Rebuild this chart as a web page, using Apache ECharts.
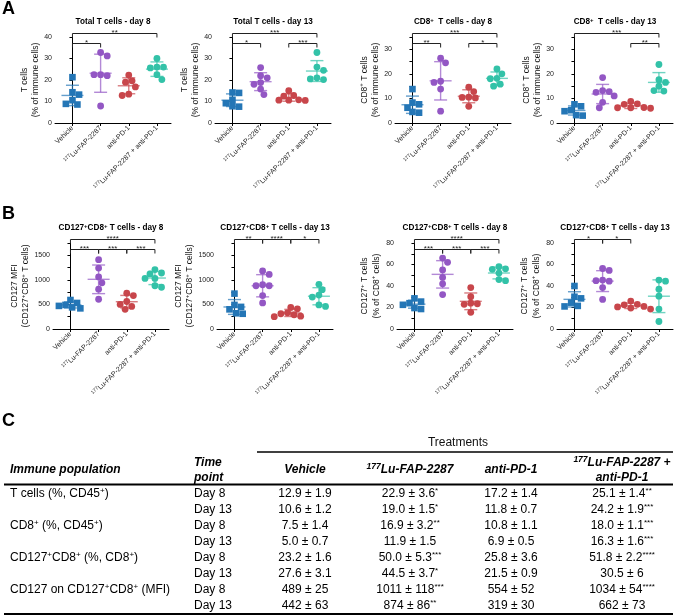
<!DOCTYPE html>
<html>
<head>
<meta charset="utf-8">
<script src="https://cdn.jsdelivr.net/npm/echarts@6.0.0/dist/echarts.min.js"></script>
<style>
html,body{margin:0;padding:0;background:#fff;}
#chart{width:677px;height:616px;}
</style>
</head>
<body>
<div id="chart"></div>
<script>
// ---------------- data ----------------
const categories = ['Vehicle', '[177]Lu-FAP-2287', 'anti-PD-1', '[177]Lu-FAP-2287 + anti-PD-1'];
const groupColors = ['#2476b6', '#9357c4', '#c8464b', '#33c2a8'];

// individual animals per group: [Vehicle, Lu, anti-PD-1, combo]
const totalTDay8 = [
  [21.3, 14.3, 13.2, 10.6, 8.6, 8.9],
  [32.8, 31.2, 22.5, 22.5, 22.0, 7.9],
  [22.3, 19.6, 19.0, 16.8, 13.4, 12.8],
  [30.0, 26.0, 26.0, 25.6, 22.5, 20.2]
];
const totalTDay13 = [
  [14.2, 14.0, 10.8, 9.2, 7.8, 7.6],
  [25.8, 22.0, 21.0, 18.8, 18.0, 15.8, 13.2],
  [15.0, 12.8, 12.5, 10.8, 10.6, 10.6, 10.5],
  [32.8, 26.0, 24.5, 21.0, 20.5, 20.2]
];
const cd8Day8 = [
  [13.8, 8.3, 7.6, 6.2, 4.2, 4.5],
  [26.4, 24.5, 17.0, 16.5, 13.8, 4.8],
  [14.6, 12.8, 10.5, 10.4, 10.2, 6.8],
  [22.0, 20.0, 18.2, 18.0, 15.8, 15.0]
];
const cd8Day13 = [
  [7.6, 6.8, 5.2, 4.8, 3.2, 3.0],
  [18.5, 13.2, 12.8, 12.5, 11.0, 8.4, 6.2],
  [8.8, 7.8, 7.6, 6.3, 6.2, 6.2, 6.0],
  [23.8, 17.6, 16.5, 15.0, 13.2, 13.0]
];
const cd127MfiDay8 = [
  [590, 530, 490, 470, 440, 420],
  [1410, 1240, 1060, 940, 810, 605],
  [730, 680, 560, 500, 460, 400],
  [1210, 1140, 1120, 1030, 1030, 880, 850]
];
const cd127MfiDay13 = [
  [720, 490, 450, 400, 320, 310],
  [1180, 1110, 900, 880, 880, 680, 530],
  [440, 410, 330, 310, 290, 260, 250],
  [910, 800, 690, 650, 490, 460]
];
const cd127PctDay8 = [
  [28.5, 25.5, 24.0, 22.5, 19.5, 18.6],
  [66, 62, 55, 48, 42, 32],
  [38.5, 30.0, 24.0, 23.5, 23.0, 15.5],
  [58, 56, 55.5, 52, 46, 45]
];
const cd127PctDay13 = [
  [40.0, 30.0, 28.5, 24.5, 21.0, 21.5],
  [56.3, 54.5, 45.5, 45.0, 44.5, 38.5, 27.5],
  [26.0, 23.0, 22.5, 21.0, 20.5, 19.5, 18.5],
  [45.5, 44.5, 37.0, 30.5, 18.5, 7.0]
];

// significance brackets: [fromGroup, toGroup, label, level]
const sigTotalTDay8 = [[0, 1, '*', 0], [0, 3, '**', 1]];
const sigTotalTDay13 = [[0, 1, '*', 0], [2, 3, '***', 0], [0, 3, '***', 1]];
const sigCd8Day8 = [[0, 1, '**', 0], [2, 3, '*', 0], [0, 3, '***', 1]];
const sigCd8Day13 = [[2, 3, '**', 0], [0, 3, '***', 1]];
const sigMfiDay8 = [[0, 1, '***', 0], [1, 2, '***', 0], [2, 3, '***', 0], [0, 3, '****', 1]];
const sigMfiDay13 = [[0, 1, '**', 1], [1, 2, '****', 1], [2, 3, '*', 1]];
const sigPctDay8 = [[0, 1, '***', 0], [1, 2, '***', 0], [2, 3, '***', 0], [0, 3, '****', 1]];
const sigPctDay13 = [[0, 1, '*', 1], [1, 2, '*', 1]];

// y tick labels
const yTicksTotalT = [0, 10, 20, 30, 40];
const yTicksCd8 = [0, 10, 20, 30];
const yTicksMfi = [0, 500, 1000, 1500];
const yTicksPct = [0, 20, 40, 60, 80];

// table C
const tableHeaders = ['Vehicle', '[177]Lu-FAP-2287', 'anti-PD-1', '[177]Lu-FAP-2287 +\nanti-PD-1'];
const tablePopulations = ['T cells (%, CD45[+])', 'CD8[+] (%, CD45[+])', 'CD127[+]CD8[+] (%, CD8[+])', 'CD127 on CD127[+]CD8[+] (MFI)'];
const tableTimepoints = ['Day 8', 'Day 13'];
const tableVehicle = ['12.9 ± 1.9', '10.6 ± 1.2', '7.5 ± 1.4', '5.0 ± 0.7', '23.2 ± 1.6', '27.6 ± 3.1', '489 ± 25', '442 ± 63'];
const tableLu = ['22.9 ± 3.6*', '19.0 ± 1.5*', '16.9 ± 3.2**', '11.9 ± 1.5', '50.0 ± 5.3***', '44.5 ± 3.7*', '1011 ± 118***', '874 ± 86**'];
const tableAnti = ['17.2 ± 1.4', '11.8 ± 0.7', '10.8 ± 1.1', '6.9 ± 0.5', '25.8 ± 3.6', '21.5 ± 0.9', '554 ± 52', '319 ± 30'];
const tableCombo = ['25.1 ± 1.4**', '24.2 ± 1.9***', '18.0 ± 1.1***', '16.3 ± 1.6***', '51.8 ± 2.2****', '30.5 ± 6', '1034 ± 54****', '662 ± 73'];

// ---------------- helpers ----------------
const FONT = '"Liberation Sans", Arial, Helvetica, sans-serif';
function rt(str) {
  return ('{n|' + str.replace(/\[([^\]]*)\]/g, '}{s|$1}{n|').replace(/\n/g, '}\n{n|') + '}').replace(/\{n\|\}/g, '');
}
function starText(str) {
  const m = str.match(/^(.*?)(\*+)$/);
  return m ? '{n|' + m[1] + '}{s|' + m[2] + '}' : '{n|' + str + '}';
}
function richSet(fs, lh, sfs, slh, weight, style, color) {
  const base = { fontSize: fs, fontFamily: FONT, fontWeight: weight || 'normal', fontStyle: style || 'normal', color: color || '#111' };
  return {
    n: Object.assign({}, base, { lineHeight: lh }),
    s: Object.assign({}, base, { fontSize: sfs, lineHeight: slh, verticalAlign: 'top' })
  };
}
const richX = richSet(7, 9, 5, 5.5, 'normal', 'normal', '#222');
const richName = richSet(8.5, 11.5, 6, 7.5, 'normal', 'normal', '#111');
const richTitle = richSet(8.2, 10, 6, 6.5, 'bold', 'normal', '#111');
const richTable = richSet(12, 14, 8, 8.5, 'normal', 'normal', '#111');
const richHeader = richSet(12, 15, 8.5, 9.5, 'bold', 'italic', '#111');

// compact beeswarm: places points (sorted by y) at the nearest free x offset
function swarm(ys, s) {
  const idx = ys.map((y, i) => i).sort((a, b) => ys[a] - ys[b]);
  const placed = [];
  const offs = new Array(ys.length).fill(0);
  idx.forEach(id => {
    const y = ys[id];
    const bal = placed.reduce((a, p) => a + p.x, 0);
    let best = 0;
    for (let k = 0; k < 60; k++) {
      const d = k * s * 0.25;
      const cands = k === 0 ? [0] : (bal > 0 ? [-d, d] : [d, -d]);
      const ok = cands.find(o => placed.every(p => (p.x - o) * (p.x - o) + (p.y - y) * (p.y - y) >= s * s * 0.92));
      if (ok !== undefined) { best = ok; break; }
    }
    offs[id] = best;
    placed.push({ x: best, y: y });
  });
  return offs;
}

const GW = 116, GH = 86;
const panels = [
  { title: 'Total T cells - day 8', yName: ['T cells', '(% of immune cells)'], data: totalTDay8, sig: sigTotalTDay8, ticks: yTicksTotalT, max: 40, step: 10, left: 55, top: 37, gap: 13 },
  { title: 'Total T cells - day 13', yName: ['T cells', '(% of immune cells)'], data: totalTDay13, sig: sigTotalTDay13, ticks: yTicksTotalT, max: 40, step: 10, left: 215, top: 37, gap: 13 },
  { title: 'CD8[+]  T cells - day 8', yName: ['CD8[+] T cells', '(% of immune cells)'], data: cd8Day8, sig: sigCd8Day8, ticks: yTicksCd8, max: 35, step: 5, left: 395, top: 37, gap: 13 },
  { title: 'CD8[+]  T cells - day 13', yName: ['CD8[+] T cells', '(% of immune cells)'], data: cd8Day13, sig: sigCd8Day13, ticks: yTicksCd8, max: 35, step: 5, left: 557, top: 37, gap: 13 },
  { title: 'CD127[+]CD8[+] T cells - day 8', yName: ['CD127 MFI', '(CD127[+]CD8[+] T cells)'], data: cd127MfiDay8, sig: sigMfiDay8, ticks: yTicksMfi, max: 1750, step: 250, left: 53, top: 243, gap: 21 },
  { title: 'CD127[+]CD8[+] T cells - day 13', yName: ['CD127 MFI', '(CD127[+]CD8[+] T cells)'], data: cd127MfiDay13, sig: sigMfiDay13, ticks: yTicksMfi, max: 1750, step: 250, left: 217, top: 243, gap: 21 },
  { title: 'CD127[+]CD8[+] T cells - day 8', yName: ['CD127[+] T cells', '(% of CD8[+] cells)'], data: cd127PctDay8, sig: sigPctDay8, ticks: yTicksPct, max: 80, step: 10, left: 397, top: 243, gap: 15 },
  { title: 'CD127[+]CD8[+] T cells - day 13', yName: ['CD127[+] T cells', '(% of CD8[+] cells)'], data: cd127PctDay13, sig: sigPctDay13, ticks: yTicksPct, max: 80, step: 10, left: 557, top: 243, gap: 15 }
];

function groupRenderer(p) {
  return function (params, api) {
    const gi = params.dataIndex;
    const vals = p.data[gi];
    const color = groupColors[gi];
    const n = vals.length;
    const mean = vals.reduce((a, b) => a + b, 0) / n;
    const sd = Math.sqrt(vals.reduce((a, b) => a + (b - mean) * (b - mean), 0) / (n - 1));
    const c = api.coord([gi, mean]);
    const cx = c[0], ym = c[1];
    const yTop = api.coord([gi, mean + sd])[1];
    const yBot = api.coord([gi, mean - sd])[1];
    const ys = vals.map(v => api.coord([gi, v])[1]);
    const offs = swarm(ys, 6.6);
    const children = [];
    ys.forEach((y, k) => {
      const x = cx + offs[k];
      if (gi === 0) children.push({ type: 'rect', shape: { x: x - 3.3, y: y - 3.3, width: 6.6, height: 6.6 }, style: { fill: color } });
      else children.push({ type: 'circle', shape: { cx: x, cy: y, r: 3.4 }, style: { fill: color } });
    });
    const ls = { stroke: color, lineWidth: 1.4, opacity: 0.7 };
    children.push({ type: 'line', shape: { x1: cx, y1: yTop, x2: cx, y2: yBot }, style: ls });
    children.push({ type: 'line', shape: { x1: cx - 6.5, y1: yTop, x2: cx + 6.5, y2: yTop }, style: ls });
    children.push({ type: 'line', shape: { x1: cx - 6.5, y1: yBot, x2: cx + 6.5, y2: yBot }, style: ls });
    children.push({ type: 'line', shape: { x1: cx - 11, y1: ym, x2: cx + 11, y2: ym }, style: ls });
    return { type: 'group', children: children };
  };
}
function sigRenderer(p) {
  return function (params, api) {
    const b = p.sig[params.dataIndex];
    const x1 = api.coord([b[0], 0])[0], x2 = api.coord([b[1], 0])[0];
    const top = api.coord([0, p.max])[1];
    const y = Math.round(top + 5.5 - b[3] * 9.5) + 0.5;
    return {
      type: 'group', children: [
        { type: 'polyline', shape: { points: [[x1, y + 4], [x1, y], [x2, y], [x2, y + 4]] }, style: { stroke: '#222', lineWidth: 1, fill: null } },
        { type: 'text', style: { text: b[2], x: (x1 + x2) / 2, y: y - 1, align: 'center', verticalAlign: 'middle', font: '8px ' + FONT, fill: '#222' } }
      ]
    };
  };
}

// ---------------- graphic: titles, panel letters, table ----------------
const graphic = [];
panels.forEach(p => {
  graphic.push({ type: 'text', style: { text: rt(p.title), rich: richTitle, x: p.left + GW / 2, y: p.top - 15, align: 'center', verticalAlign: 'middle' } });
});
[['A', 2, 0], ['B', 2, 205], ['C', 2, 412]].forEach(l => {
  graphic.push({ type: 'text', style: { text: l[0], x: l[1], y: l[2], font: 'bold 18px ' + FONT, fill: '#000', align: 'left', verticalAlign: 'top' } });
});
const colCenters = [305, 410, 511, 622];
const rowY0 = 494, rowStep = 16;
graphic.push({ type: 'text', style: { text: 'Treatments', x: 458, y: 443, font: '12px ' + FONT, fill: '#111', align: 'center', verticalAlign: 'middle' } });
graphic.push({ type: 'line', shape: { x1: 257, y1: 452, x2: 673, y2: 452 }, style: { stroke: '#000', lineWidth: 1.3 } });
graphic.push({ type: 'text', style: { text: '{n|Immune population}', rich: richHeader, x: 10, y: 470, align: 'left', verticalAlign: 'middle' } });
graphic.push({ type: 'text', style: { text: '{n|Time}\n{n|point}', rich: richHeader, x: 194, y: 470, align: 'left', verticalAlign: 'middle' } });
tableHeaders.forEach((h, i) => {
  graphic.push({ type: 'text', style: { text: rt(h), rich: richHeader, x: colCenters[i], y: 470, align: 'center', verticalAlign: 'middle' } });
});
graphic.push({ type: 'line', shape: { x1: 4, y1: 484.5, x2: 673, y2: 484.5 }, style: { stroke: '#000', lineWidth: 2 } });
tablePopulations.forEach((t, i) => {
  graphic.push({ type: 'text', style: { text: rt(t), rich: richTable, x: 10, y: rowY0 + rowStep * 2 * i, align: 'left', verticalAlign: 'middle' } });
});
const tableCols = [tableVehicle, tableLu, tableAnti, tableCombo];
for (let r = 0; r < 8; r++) {
  graphic.push({ type: 'text', style: { text: '{n|' + tableTimepoints[r % 2] + '}', rich: richTable, x: 194, y: rowY0 + rowStep * r, align: 'left', verticalAlign: 'middle' } });
  tableCols.forEach((col, c) => {
    graphic.push({ type: 'text', style: { text: starText(col[r]), rich: richTable, x: colCenters[c], y: rowY0 + rowStep * r, align: 'center', verticalAlign: 'middle' } });
  });
}
graphic.push({ type: 'line', shape: { x1: 4, y1: 614, x2: 673, y2: 614 }, style: { stroke: '#000', lineWidth: 2 } });

// ---------------- option ----------------
const option = {
  animation: false,
  backgroundColor: '#fff',
  textStyle: { fontFamily: FONT },
  grid: panels.map(p => ({ left: p.left, top: p.top, width: GW, height: GH, containLabel: false, outerBoundsMode: 'none' })),
  xAxis: panels.map((p, i) => ({
    gridIndex: i, type: 'value', min: -0.62, max: 3.5,
    axisLine: { show: true, onZero: false, lineStyle: { color: '#000', width: 1 } },
    axisTick: { show: true, customValues: [0, 1, 2, 3], length: 3, lineStyle: { color: '#000' } },
    axisLabel: { show: true, customValues: [0, 1, 2, 3], rotate: 45, margin: 4, fontSize: 7, color: '#222',
      formatter: v => rt(categories[Math.round(v)]), rich: richX },
    splitLine: { show: false }
  })),
  yAxis: panels.map((p, i) => ({
    gridIndex: i, type: 'value', min: 0, max: p.max, interval: p.step,
    axisLine: { show: true, lineStyle: { color: '#000', width: 1 } },
    axisTick: { show: true, length: 3, lineStyle: { color: '#000' } },
    axisLabel: { show: true, customValues: p.ticks, fontSize: 7, margin: 3, color: '#222', fontFamily: FONT,
      formatter: v => String(v) },
    splitLine: { show: false },
    name: p.yName.map(rt).join('\n'), nameLocation: 'middle', nameRotate: 90, nameGap: p.gap,
    nameTextStyle: { rich: richName }
  })),
  graphic: graphic,
  series: panels.flatMap((p, i) => [
    { type: 'custom', xAxisIndex: i, yAxisIndex: i, clip: false, silent: true,
      data: p.data.map((vals, g) => [g, 0]), renderItem: groupRenderer(p) },
    { type: 'custom', xAxisIndex: i, yAxisIndex: i, clip: false, silent: true,
      data: p.sig.map(b => [b[0], 0]), renderItem: sigRenderer(p) }
  ])
};
const chart = echarts.init(document.getElementById('chart'));
chart.setOption(option);
</script>
</body>
</html>
